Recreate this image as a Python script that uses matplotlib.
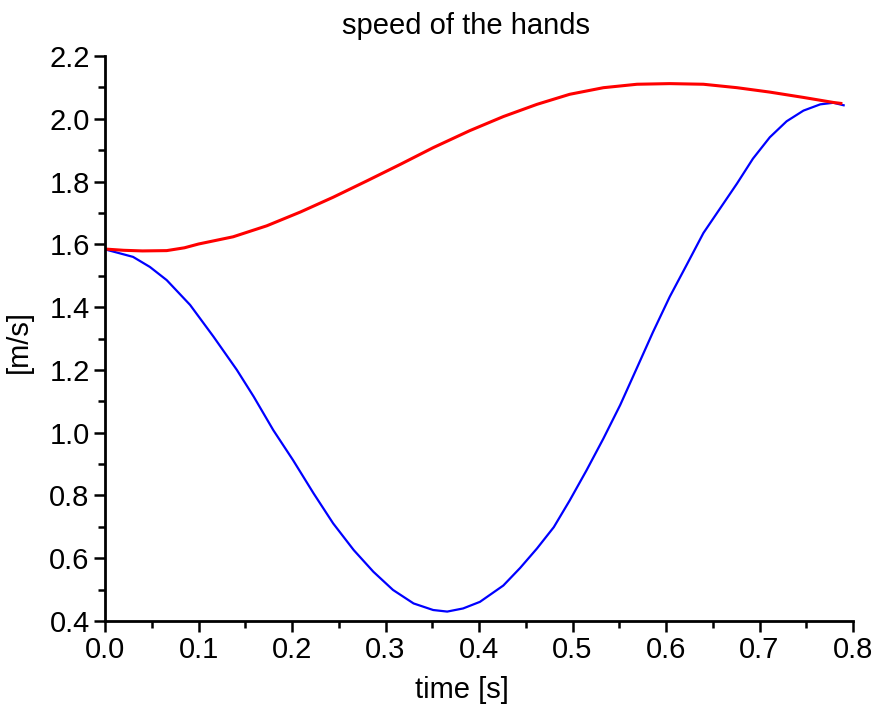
"""Speed of the hands: two speed traces over one movement."""

import matplotlib
matplotlib.use("Agg")
import matplotlib.pyplot as plt
from matplotlib.ticker import MultipleLocator

# values
red_t = [0.0, 0.02, 0.04, 0.066, 0.085, 0.10, 0.137, 0.173, 0.209, 0.244,
         0.280, 0.316, 0.351, 0.390, 0.426, 0.462, 0.497, 0.533, 0.569,
         0.604, 0.640, 0.676, 0.711, 0.747, 0.779, 0.787]
red_v = [1.585, 1.581, 1.579, 1.580, 1.589, 1.601, 1.624, 1.659, 1.703, 1.750,
         1.802, 1.855, 1.908, 1.962, 2.007, 2.046, 2.078, 2.099, 2.110,
         2.112, 2.110, 2.099, 2.085, 2.068, 2.052, 2.049]

blue_t = [0.0, 0.030, 0.048, 0.066, 0.091, 0.116, 0.141, 0.159, 0.180, 0.201,
          0.223, 0.244, 0.266, 0.287, 0.308, 0.330, 0.351, 0.366, 0.383,
          0.401, 0.426, 0.444, 0.462, 0.480, 0.497, 0.515, 0.533, 0.551,
          0.569, 0.586, 0.604, 0.622, 0.640, 0.658, 0.676, 0.693, 0.711,
          0.729, 0.747, 0.765, 0.779, 0.790]
blue_v = [1.584, 1.560, 1.528, 1.486, 1.407, 1.306, 1.200, 1.115, 1.008, 0.913,
          0.807, 0.711, 0.626, 0.557, 0.499, 0.456, 0.435, 0.430, 0.440,
          0.461, 0.513, 0.569, 0.631, 0.699, 0.784, 0.880, 0.981, 1.088,
          1.207, 1.320, 1.433, 1.534, 1.636, 1.715, 1.794, 1.873, 1.941,
          1.992, 2.026, 2.046, 2.051, 2.043]

plt.rcParams["font.family"] = ["Liberation Sans", "DejaVu Sans"]

fig = plt.figure(figsize=(8.78, 7.11), dpi=100)
ax = fig.add_axes([105 / 878, 1 - 621 / 711, 748 / 878, 565 / 711])

ax.plot(blue_t, blue_v, color="#0000ff", linewidth=1.6, solid_joinstyle="round")
ax.plot(red_t, red_v, color="#ff0000", linewidth=2.2, solid_joinstyle="round")

ax.set_xlim(0.0, 0.8)
ax.set_ylim(0.4, 2.2)
ax.xaxis.set_major_locator(MultipleLocator(0.1))
ax.xaxis.set_minor_locator(MultipleLocator(0.05))
ax.yaxis.set_major_locator(MultipleLocator(0.2))
ax.yaxis.set_minor_locator(MultipleLocator(0.1))
ax.xaxis.set_major_formatter(lambda v, p: f"{v:.1f}")
ax.yaxis.set_major_formatter(lambda v, p: f"{v:.1f}")

for side in ("top", "right"):
    ax.spines[side].set_visible(False)
for side in ("left", "bottom"):
    ax.spines[side].set_linewidth(2.0)

ax.tick_params(which="major", length=8, width=1.8, labelsize=21, pad=3)
ax.tick_params(which="minor", length=5, width=1.8)

ax.set_title("speed of the hands", fontsize=21, x=0.482, pad=16)
ax.set_xlabel("time [s]", fontsize=21)
ax.set_ylabel("[m/s]", fontsize=21)
ax.xaxis.set_label_coords(0.477, -0.097)
ax.yaxis.set_label_coords(-0.096, 0.495)

fig.savefig("out.png", dpi=100, facecolor="white")
